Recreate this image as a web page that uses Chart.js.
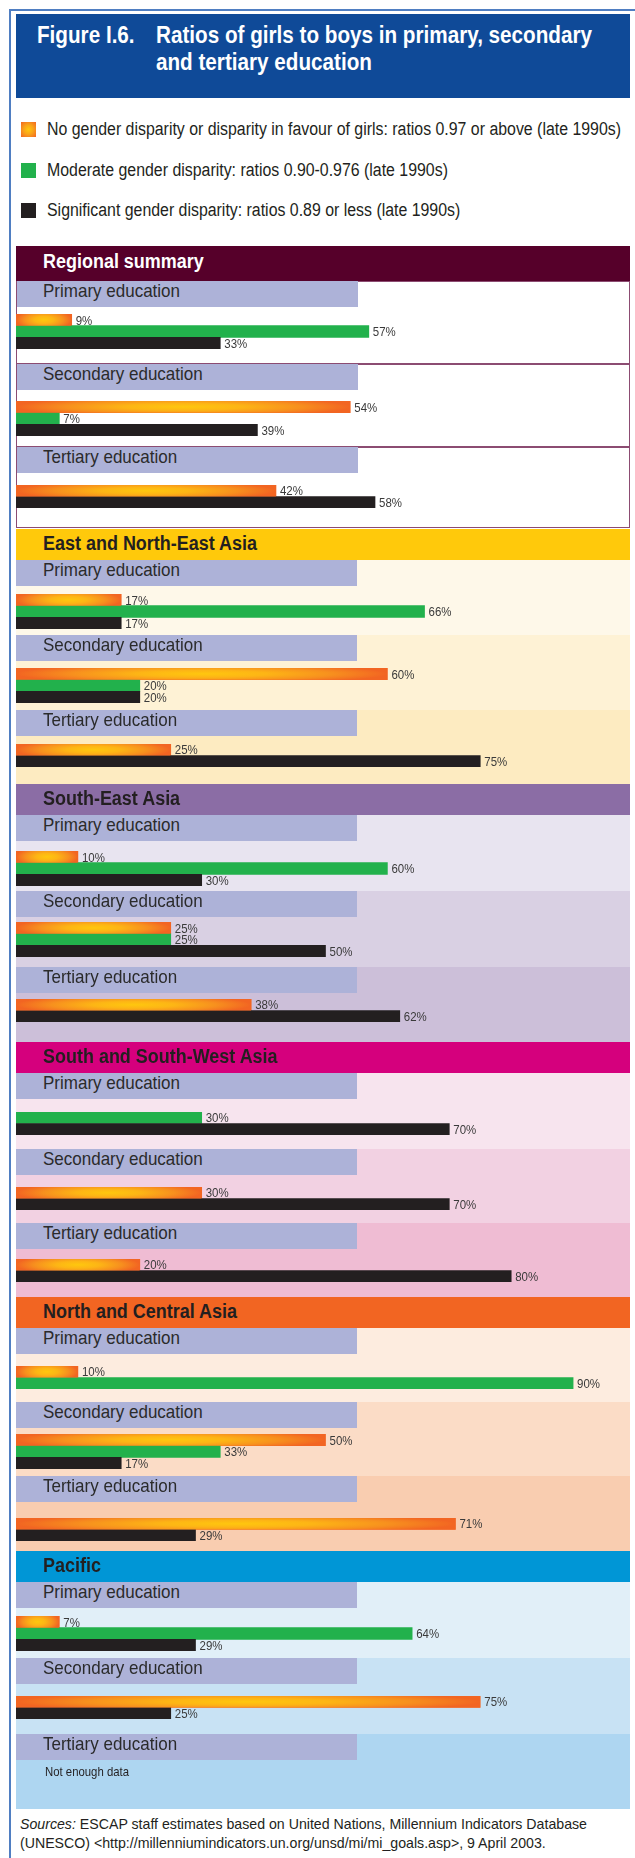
<!DOCTYPE html>
<html lang="en">
<head>
<meta charset="utf-8">
<title>Ratios of girls to boys in primary, secondary and tertiary education</title>
<script src="https://cdn.jsdelivr.net/npm/chart.js@4.4.1/dist/chart.umd.min.js"></script>
<style>
  html, body { margin: 0; padding: 0; background: #fff; }
  body { position: relative; width: 635px; height: 1858px; overflow: hidden;
         font-family: "Liberation Sans", Arial, Helvetica, sans-serif; }
  .blk { position: absolute; }
  .txt { position: absolute; white-space: nowrap; line-height: 1; transform-origin: 0 0; }
  canvas.bars { position: absolute; display: block; }
</style>
</head>
<body>
<script>
// ---------------- data ----------------
const titleNumber = 'Figure I.6.';
const titleLines = ['Ratios of girls to boys in primary, secondary', 'and tertiary education'];

const regions = ['Regional summary', 'East and North-East Asia', 'South-East Asia',
                 'South and South-West Asia', 'North and Central Asia', 'Pacific'];
const levels = ['Primary education', 'Secondary education', 'Tertiary education'];

const seriesNames = [
  'No gender disparity or disparity in favour of girls: ratios 0.97 or above (late 1990s)',
  'Moderate gender disparity: ratios 0.90-0.976 (late 1990s)',
  'Significant gender disparity: ratios 0.89 or less (late 1990s)'
];

// percentage of countries in each group; one row per region,
// columns = primary, secondary, tertiary; null = no countries in the group
const noDisparity = [[9, 54, 42], [17, 60, 25], [10, 25, 38], [null, 30, 20], [10, 50, 71], [7, 75, null]];
const moderate    = [[57, 7, null], [66, 20, null], [60, 25, null], [30, null, null], [90, 33, null], [64, null, null]];
const significant = [[33, 39, 58], [17, 20, 75], [30, 50, 62], [70, 70, 80], [null, 17, 29], [29, 25, null]];

const missingNote = 'Not enough data';
const sourceLines = [
  [['Sources:', true], [' ESCAP staff estimates based on United Nations, Millennium Indicators Database', false]],
  [['(UNESCO) <http://millenniumindicators.un.org/unsd/mi/mi_goals.asp>, 9 April 2003.', false]]
];

// ---------------- styles ----------------
const ink = '#231F20';
const seriesColors = ['#F26522', '#22B14C', '#231F20'];
const headerColors = ['#56002A', '#FFC90B', '#8B6DA5', '#D5007D', '#F26522', '#0096D6'];
const headerInk = ['#FFFFFF', ink, ink, ink, ink, ink];
const panelColors = [
  ['#FFFFFF', '#FFFFFF', '#FFFFFF'],
  ['#FEF8E9', '#FEF2D5', '#FDEBC1'],
  ['#E8E4F0', '#D9D0E3', '#CCBFD9'],
  ['#F7E4EE', '#F2D1E2', '#EFBCD3'],
  ['#FDECDF', '#FBDCC6', '#F9CDB0'],
  ['#E1EFF8', '#C8E2F4', '#AED6F1']
];
const levelBarColor = '#ADB2D8';
const summaryBorder = '#8C4C72';

// ---------------- layout ----------------
const headerTop = [246, 529, 784, 1042, 1297, 1551];
const headerHeight = [35, 31, 31, 31, 31, 31];
const headerBaseline = [22, 21, 21, 21, 21, 21];
const panelTop = [[281, 364, 447], [560, 635, 710], [815, 891, 967],
                  [1073, 1149, 1223], [1328, 1402, 1476], [1582, 1658, 1734]];
const panelBottom = [[364, 447, 528], [635, 710, 784], [891, 967, 1042],
                     [1149, 1223, 1297], [1402, 1476, 1551], [1658, 1734, 1809]];
// space between the level label and the first bar of each panel
const barGap = [[7, 11, 12], [8, 7, 8], [10, 5, 6], [13, 12, 10], [12, 6, 16], [8, 12, 10]];
const panelLeft = 16, panelRight = 630;
const labelWidth = 341, labelHeight = 26;
const barThickness = 11.5, canvasPad = 7;
const valueFontSize = 13.5, valueScaleX = 0.85, valueInk = '#3A3A3A';

// ---------------- helpers ----------------
function block(x, y, w, h, bg, extra) {
  const d = document.createElement('div');
  d.className = 'blk';
  d.style.cssText = `left:${x}px;top:${y}px;width:${w}px;height:${h}px;background:${bg};${extra || ''}`;
  document.body.appendChild(d);
  return d;
}

// text placed by its baseline; squeezed horizontally to a condensed look
function addText(parts, x, baseline, size, o = {}) {
  const d = document.createElement('div');
  d.className = 'txt';
  d.style.left = x + 'px';
  d.style.top = (baseline - 0.8465 * size) + 'px';
  d.style.fontSize = size + 'px';
  d.style.fontWeight = o.weight || 400;
  d.style.color = o.color || ink;
  (typeof parts === 'string' ? [[parts, false]] : parts).forEach(([t, it]) => {
    const s = document.createElement('span');
    s.textContent = t;
    if (it) s.style.fontStyle = 'italic';
    d.appendChild(s);
  });
  document.body.appendChild(d);
  const sx = o.fit ? o.fit / d.getBoundingClientRect().width : (o.scale || 1);
  d.style.transform = `scaleX(${sx})`;
  return sx;
}

// orange bars get a warm glow; every bar gets its value printed after its end
const glowAndValues = {
  id: 'glowAndValues',
  afterDatasetsDraw(chart) {
    const ctx = chart.ctx;
    const ds = chart.data.datasets[0];
    chart.getDatasetMeta(0).data.forEach((bar, i) => {
      const p = bar.getProps(['x', 'y', 'base', 'height'], true);
      const left = Math.min(p.base, p.x), w = Math.abs(p.x - p.base), top = p.y - p.height / 2;
      if (ds.series[i] === 0 && w > 0) {
        ctx.save();
        ctx.beginPath();
        ctx.rect(left, top, w, p.height);
        ctx.clip();
        ctx.translate(left + w / 2, p.y);
        ctx.scale(w / 2, p.height * 0.85);
        const g = ctx.createRadialGradient(0, 0, 0, 0, 0, 1);
        g.addColorStop(0, '#FFC70E');
        g.addColorStop(0.35, '#FDB515');
        g.addColorStop(0.7, '#F7901E');
        g.addColorStop(1, '#F26522');
        ctx.fillStyle = g;
        ctx.fillRect(-1, -1, 2, 2);
        ctx.restore();
      }
      ctx.save();
      ctx.font = `${valueFontSize}px "Liberation Sans", Arial, sans-serif`;
      ctx.fillStyle = valueInk;
      ctx.textBaseline = 'middle';
      ctx.translate(p.x + 4, p.y + 1);
      ctx.scale(valueScaleX, 1);
      ctx.fillText(ds.data[i] + '%', 0, 0);
      ctx.restore();
    });
  }
};

function panelChart(r, l, y) {
  const values = [noDisparity[r][l], moderate[r][l], significant[r][l]];
  const present = [0, 1, 2].filter(i => values[i] !== null);
  const cv = document.createElement('canvas');
  cv.className = 'bars';
  cv.width = panelRight + 5 - panelLeft;
  cv.height = Math.round(present.length * barThickness) + 2 * canvasPad;
  cv.style.left = panelLeft + 'px';
  cv.style.top = y + 'px';
  document.body.appendChild(cv);
  new Chart(cv, {
    type: 'bar',
    data: {
      labels: present.map(i => seriesNames[i]),
      datasets: [{
        data: present.map(i => values[i]),
        series: present,
        backgroundColor: present.map(i => seriesColors[i]),
        borderWidth: 0,
        categoryPercentage: 1,
        barPercentage: 1
      }]
    },
    options: {
      indexAxis: 'y',
      responsive: false,
      animation: false,
      devicePixelRatio: 1,
      events: [],
      layout: { padding: { top: canvasPad, bottom: canvasPad, left: 0, right: 0 } },
      scales: {
        x: { type: 'linear', min: 0, max: 100, display: false },
        y: { type: 'category', display: false, offset: true }
      },
      plugins: { legend: { display: false }, tooltip: { enabled: false } }
    },
    plugins: [glowAndValues]
  });
}

// ---------------- frame, title, legend ----------------
block(9, 9, 700, 2000, 'transparent', 'border-left:2px solid #4F7EC2;border-top:2px solid #4F7EC2;');
block(16, 14, 614, 84, '#0F4A98');
const titleScale = addText(titleLines[0], 156, 43, 24, { weight: 700, color: '#FFFFFF', fit: 436 });
addText(titleNumber, 37, 43, 24, { weight: 700, color: '#FFFFFF', scale: titleScale });
addText(titleLines[1], 156, 70, 24, { weight: 700, color: '#FFFFFF', scale: titleScale });

const legendBaselines = [135, 176, 216];
const swatchFill = [
  'radial-gradient(ellipse at center, #FFC70E 0%, #F9A41A 45%, #F26522 100%)',
  seriesColors[1], seriesColors[2]
];
let legendScale = null;
seriesNames.forEach((name, i) => {
  block(21, legendBaselines[i] - 13, 15, 15, swatchFill[i]);
  if (legendScale === null) legendScale = addText(name, 47, legendBaselines[i], 18, { fit: 574 });
  else addText(name, 47, legendBaselines[i], 18, { scale: legendScale });
});

// ---------------- regional panels ----------------
let levelScale = null;
// condensed width is taken from one header and reused for the others
const headerScale = addText(regions[1], 43, headerTop[1] + headerBaseline[1], 20,
                            { weight: 700, color: headerInk[1], fit: 214 });

regions.forEach((name, r) => {
  levels.forEach((lev, l) => {
    const top = panelTop[r][l], bottom = panelBottom[r][l];
    if (r === 0) {
      block(panelLeft, top, panelRight - panelLeft, bottom - top, '#FFFFFF',
            `border:1px solid ${summaryBorder};box-sizing:border-box;`);
    } else {
      block(panelLeft, top, panelRight - panelLeft, bottom - top, panelColors[r][l]);
    }
    block(panelLeft + (r === 0 ? 1 : 0), top, labelWidth, labelHeight, levelBarColor);
    if (levelScale === null) levelScale = addText(lev, 43, top + 16.5, 18.5, { color: '#2B2B2B', fit: 137 });
    else addText(lev, 43, top + 16.5, 18.5, { color: '#2B2B2B', scale: levelScale });

    const hasData = [noDisparity, moderate, significant].some(s => s[r][l] !== null);
    if (hasData) {
      panelChart(r, l, top + labelHeight + barGap[r][l] - canvasPad);
    } else {
      addText(missingNote, 45, top + labelHeight + 16, 13.5, { fit: 84 });
    }
  });
  block(panelLeft, headerTop[r], panelRight - panelLeft, headerHeight[r], headerColors[r]);
  addText(name, 43, headerTop[r] + headerBaseline[r], 20,
          { weight: 700, color: headerInk[r], scale: headerScale });
});

// ---------------- sources ----------------
const srcScale = addText(sourceLines[0], 20, 1829, 15, { fit: 567 });
addText(sourceLines[1], 20, 1848, 15, { scale: srcScale });
</script>
</body>
</html>
